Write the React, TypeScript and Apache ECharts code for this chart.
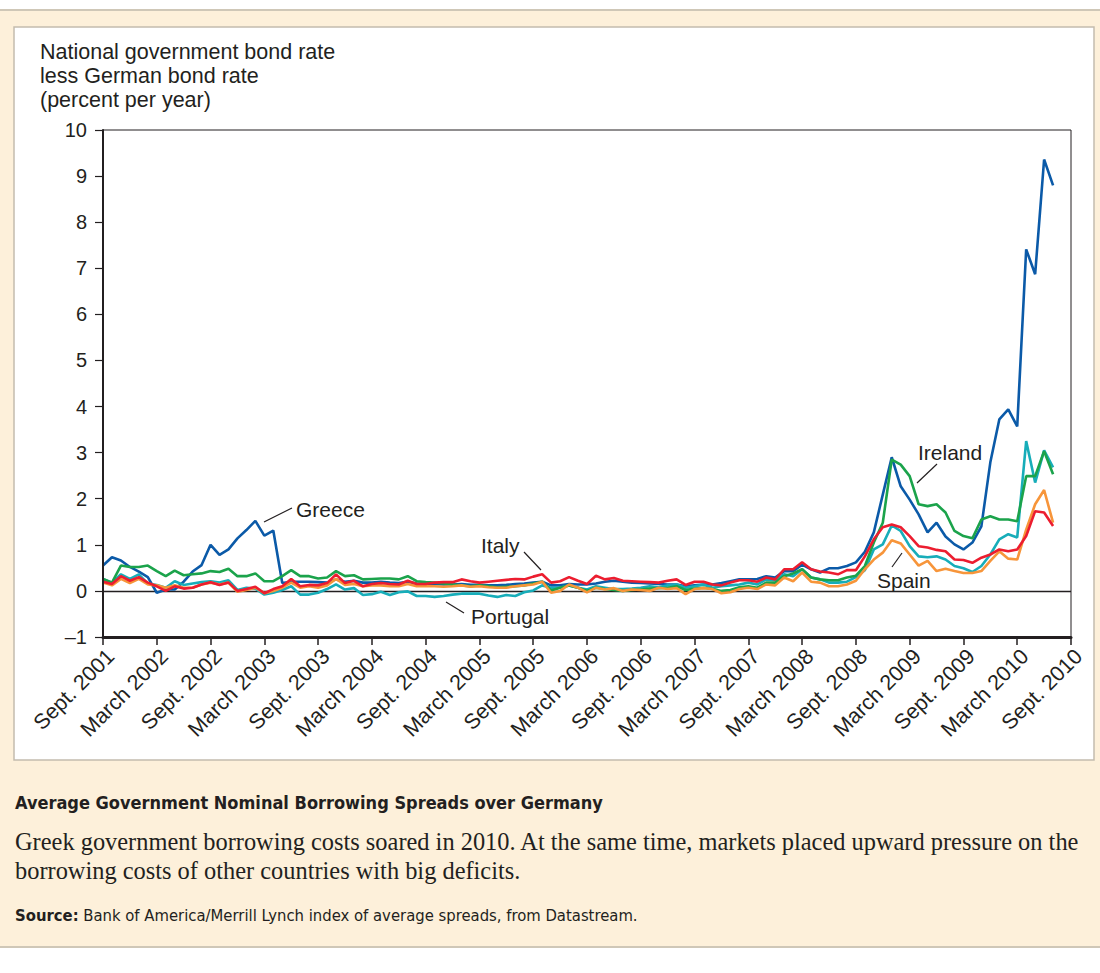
import React, { useEffect, useRef } from "react";
import * as echarts from "echarts";

const tickLabels = [
  "Sept. 2001", "March 2002", "Sept. 2002", "March 2003", "Sept. 2003", "March 2004",
  "Sept. 2004", "March 2005", "Sept. 2005", "March 2006", "Sept. 2006", "March 2007",
  "Sept. 2007", "March 2008", "Sept. 2008", "March 2009", "Sept. 2009", "March 2010", "Sept. 2010",
];

// monthly values, Sept. 2001 .. July 2010
const greece = [
  0.55, 0.73, 0.66, 0.52, 0.42, 0.30, -0.04, 0.03, 0.03, 0.20,
  0.42, 0.56, 1.00, 0.78, 0.90, 1.14, 1.32, 1.52, 1.20, 1.31,
  0.17, 0.20, 0.20, 0.20, 0.19, 0.18, 0.25, 0.20, 0.22, 0.18,
  0.18, 0.20, 0.18, 0.17, 0.20, 0.16, 0.15, 0.15, 0.14, 0.14,
  0.15, 0.13, 0.13, 0.12, 0.12, 0.13, 0.15, 0.16, 0.18, 0.20,
  0.12, 0.12, 0.15, 0.14, 0.14, 0.16, 0.20, 0.22, 0.20, 0.18,
  0.17, 0.16, 0.15, 0.14, 0.14, 0.10, 0.12, 0.14, 0.14, 0.17,
  0.21, 0.25, 0.25, 0.26, 0.32, 0.29, 0.43, 0.43, 0.57, 0.47,
  0.40, 0.49, 0.49, 0.54, 0.62, 0.85, 1.27, 2.09, 2.90, 2.27,
  1.98, 1.66, 1.27, 1.48, 1.18, 1.01, 0.90, 1.05, 1.40, 2.79,
  3.72, 3.94, 3.57, 7.41, 6.87, 9.36, 8.80,
];

const ireland = [
  0.26, 0.18, 0.55, 0.52, 0.52, 0.55, 0.43, 0.32, 0.44, 0.34,
  0.36, 0.38, 0.43, 0.41, 0.48, 0.32, 0.32, 0.38, 0.21, 0.21,
  0.32, 0.45, 0.32, 0.32, 0.27, 0.29, 0.43, 0.32, 0.34, 0.25,
  0.26, 0.27, 0.27, 0.25, 0.32, 0.21, 0.19, 0.18, 0.16, 0.14,
  0.12, 0.10, 0.12, 0.10, 0.08, 0.09, 0.10, 0.12, 0.16, 0.20,
  0.01, 0.07, 0.12, 0.07, 0.00, 0.07, 0.04, 0.02, 0.00, 0.02,
  0.03, 0.05, 0.06, 0.07, 0.10, 0.02, 0.05, 0.07, 0.04, 0.00,
  0.02, 0.08, 0.10, 0.07, 0.18, 0.18, 0.32, 0.38, 0.47, 0.29,
  0.25, 0.23, 0.23, 0.29, 0.33, 0.54, 1.05, 1.48, 2.85, 2.74,
  2.49, 1.88, 1.84, 1.88, 1.70, 1.30, 1.19, 1.14, 1.55, 1.62,
  1.55, 1.55, 1.51, 2.49, 2.49, 3.03, 2.53,
];

const portugal = [
  0.26, 0.18, 0.36, 0.26, 0.36, 0.16, 0.13, 0.07, 0.21, 0.13,
  0.16, 0.19, 0.21, 0.18, 0.23, 0.02, 0.07, 0.05, -0.08, -0.04,
  0.02, 0.10, -0.08, -0.08, -0.04, 0.04, 0.14, 0.03, 0.06, -0.09,
  -0.07, -0.02, -0.09, -0.03, -0.01, -0.11, -0.11, -0.13, -0.11, -0.08,
  -0.06, -0.06, -0.06, -0.10, -0.13, -0.09, -0.11, -0.03, 0.01, 0.12,
  0.07, 0.07, 0.12, 0.07, 0.03, 0.10, 0.07, 0.04, 0.04, 0.05,
  0.07, 0.10, 0.08, 0.12, 0.14, 0.07, 0.10, 0.14, 0.07, 0.10,
  0.12, 0.14, 0.18, 0.14, 0.25, 0.23, 0.36, 0.32, 0.47, 0.29,
  0.25, 0.18, 0.18, 0.20, 0.30, 0.45, 0.90, 1.01, 1.42, 1.30,
  0.97, 0.75, 0.73, 0.75, 0.68, 0.54, 0.49, 0.41, 0.54, 0.79,
  1.12, 1.23, 1.16, 3.25, 2.35, 3.05, 2.68,
];

const italy = [
  0.20, 0.15, 0.32, 0.22, 0.30, 0.18, 0.10, 0.00, 0.10, 0.05,
  0.07, 0.14, 0.19, 0.13, 0.18, 0.00, 0.04, 0.09, -0.05, 0.04,
  0.10, 0.26, 0.10, 0.13, 0.12, 0.17, 0.36, 0.17, 0.22, 0.10,
  0.15, 0.17, 0.15, 0.14, 0.22, 0.15, 0.15, 0.18, 0.19, 0.19,
  0.25, 0.21, 0.18, 0.20, 0.22, 0.24, 0.26, 0.25, 0.31, 0.36,
  0.18, 0.21, 0.30, 0.22, 0.15, 0.33, 0.25, 0.28, 0.22, 0.21,
  0.20, 0.19, 0.18, 0.22, 0.25, 0.13, 0.20, 0.20, 0.14, 0.12,
  0.18, 0.23, 0.23, 0.20, 0.29, 0.25, 0.47, 0.47, 0.62, 0.47,
  0.42, 0.40, 0.36, 0.45, 0.45, 0.75, 1.12, 1.38, 1.44, 1.38,
  1.19, 0.97, 0.94, 0.89, 0.86, 0.68, 0.67, 0.61, 0.72, 0.79,
  0.90, 0.86, 0.90, 1.19, 1.73, 1.70, 1.41,
];

const spain = [
  0.18, 0.12, 0.26, 0.17, 0.26, 0.14, 0.12, 0.07, 0.12, 0.07,
  0.07, 0.14, 0.18, 0.14, 0.18, -0.02, 0.02, 0.07, -0.05, 0.00,
  0.07, 0.18, 0.07, 0.10, 0.07, 0.12, 0.26, 0.13, 0.15, 0.10,
  0.12, 0.12, 0.10, 0.10, 0.15, 0.10, 0.10, 0.10, 0.09, 0.10,
  0.12, 0.09, 0.10, 0.08, 0.07, 0.07, 0.10, 0.12, 0.14, 0.20,
  -0.04, 0.00, 0.14, 0.07, -0.03, 0.07, 0.03, 0.06, 0.00, 0.03,
  0.02, 0.00, 0.07, 0.04, 0.06, -0.07, 0.04, 0.06, 0.04, -0.05,
  -0.03, 0.04, 0.07, 0.04, 0.14, 0.12, 0.29, 0.21, 0.40, 0.20,
  0.18, 0.10, 0.10, 0.14, 0.22, 0.47, 0.68, 0.83, 1.10, 1.03,
  0.79, 0.55, 0.65, 0.43, 0.48, 0.43, 0.39, 0.39, 0.43, 0.65,
  0.86, 0.70, 0.68, 1.33, 1.88, 2.19, 1.48,
];

const INK = "#231f20";
const SANS = "'Liberation Sans', Arial, Helvetica, sans-serif";
const NARROW = "'Liberation Sans Narrow', 'DejaVu Sans Condensed', 'Liberation Sans', sans-serif";
const SERIF = "'Liberation Serif', 'DejaVu Serif', serif";

function lineSeries(name: string, vals: number[], color: string, extra: any = {}) {
  return {
    name,
    type: "line",
    data: vals.map((v, i) => [i, v]),
    showSymbol: false,
    symbol: "none",
    lineStyle: { color, width: 2.6 },
    itemStyle: { color },
    silent: true,
    ...extra,
  };
}

function label(text: string, x: number, y: number, size = 21) {
  return {
    type: "text",
    x,
    y,
    silent: true,
    z: 50,
    style: { text, fill: INK, font: `${size}px ${SANS}`, textVerticalAlign: "middle" },
  };
}

function leader(x1: number, y1: number, x2: number, y2: number) {
  return {
    type: "line",
    silent: true,
    z: 50,
    shape: { x1, y1, x2, y2 },
    style: { stroke: INK, lineWidth: 1.2 },
  };
}

export default function App() {
  const ref = useRef<HTMLDivElement>(null);

  useEffect(() => {
    if (!ref.current) return;
    const chart = echarts.init(ref.current, undefined, { renderer: "svg" });
    const option: any = {
      animation: false,
      backgroundColor: "#ffffff",
      grid: {
        left: 103,
        top: 130,
        width: 968,
        height: 507,
        show: true,
        borderColor: INK,
        borderWidth: 1,
        backgroundColor: "transparent",
        z: 10,
      },
      xAxis: {
        type: "value",
        min: 0,
        max: 108,
        interval: 6,
        axisLine: { onZero: false, lineStyle: { color: INK, width: 3 } },
        axisTick: { show: true, inside: false, length: 8, lineStyle: { color: INK, width: 1.5 } },
        axisLabel: {
          rotate: 45,
          margin: 8,
          color: INK,
          fontSize: 21.5,
          fontFamily: SANS,
          verticalAlign: "top",
          formatter: (v: number) => tickLabels[Math.round(v / 6)] ?? "",
        },
        splitLine: { show: false },
        z: 10,
      },
      yAxis: {
        type: "value",
        min: -1,
        max: 10,
        interval: 1,
        axisLine: { show: true, onZero: false, lineStyle: { color: INK, width: 2 } },
        axisTick: { show: true, inside: false, length: 8, lineStyle: { color: INK, width: 1.2 } },
        axisLabel: {
          margin: 16,
          color: INK,
          fontSize: 20,
          fontFamily: SANS,
          formatter: (v: number) => (v < 0 ? "\u2013" + Math.abs(v) : String(v)),
        },
        splitLine: { show: false },
        z: 10,
      },
      series: [
        lineSeries("Greece", greece, "#0b5aa8", {
          z: 3,
          markLine: {
            silent: true,
            symbol: "none",
            label: { show: false },
            lineStyle: { color: INK, width: 1.3, type: "solid" },
            data: [{ yAxis: 0 }],
            z: 1,
          },
        }),
        lineSeries("Portugal", portugal, "#17adb9", { z: 4 }),
        lineSeries("Ireland", ireland, "#1ba34b", { z: 5 }),
        lineSeries("Spain", spain, "#f7953a", { z: 6 }),
        lineSeries("Italy", italy, "#ec1d2f", { z: 7 }),
      ],
      graphic: [
        { type: "rect", z: -10, silent: true, shape: { x: 0, y: 9, width: 1100, height: 939 }, style: { fill: "#cfc7b7" } },
        { type: "rect", z: -9, silent: true, shape: { x: 0, y: 11, width: 1100, height: 935 }, style: { fill: "#fdf0da" } },
        { type: "rect", z: -8, silent: true, shape: { x: 14, y: 27, width: 1080, height: 733 }, style: { fill: "#ffffff", stroke: "#c4bcae", lineWidth: 1.5 } },
        label("National government bond rate", 40, 52, 21.5),
        label("less German bond rate", 40, 76, 21.5),
        label("(percent per year)", 40, 100, 21.5),
        label("Greece", 296, 509),
        leader(264, 522, 292, 508),
        label("Italy", 481, 545),
        leader(524, 552, 541, 570),
        label("Portugal", 471, 616),
        leader(446, 602, 464, 613),
        label("Ireland", 918, 452),
        leader(937, 464, 917, 483),
        label("Spain", 877, 580),
        leader(902, 553, 892, 567),
        {
          type: "text",
          x: 15,
          y: 802,
          silent: true,
          style: {
            text: "Average Government Nominal Borrowing Spreads over Germany",
            fill: INK,
            font: `bold 18px ${NARROW}`,
            textVerticalAlign: "middle",
          },
        },
        {
          type: "text",
          x: 15,
          y: 841,
          silent: true,
          style: {
            text: "Greek government borrowing costs soared in 2010. At the same time, markets placed upward pressure on the",
            fill: INK,
            font: `24.4px ${SERIF}`,
            textVerticalAlign: "middle",
          },
        },
        {
          type: "text",
          x: 15,
          y: 870,
          silent: true,
          style: {
            text: "borrowing costs of other countries with big deficits.",
            fill: INK,
            font: `24.4px ${SERIF}`,
            textVerticalAlign: "middle",
          },
        },
        {
          type: "text",
          x: 15,
          y: 915,
          silent: true,
          style: {
            text: "{b|Source:} Bank of America/Merrill Lynch index of average spreads, from Datastream.",
            fill: INK,
            font: `16.5px ${NARROW}`,
            textVerticalAlign: "middle",
            rich: {
              b: { fontWeight: "bold", fontSize: 16.5, fontFamily: NARROW, fill: INK, color: INK },
            },
          },
        },
      ],
    };
    chart.setOption(option);
    return () => chart.dispose();
  }, []);

  return (
    <div
      ref={ref}
      style={{ position: "absolute", left: 0, top: 0, width: 1100, height: 973 }}
    />
  );
}
